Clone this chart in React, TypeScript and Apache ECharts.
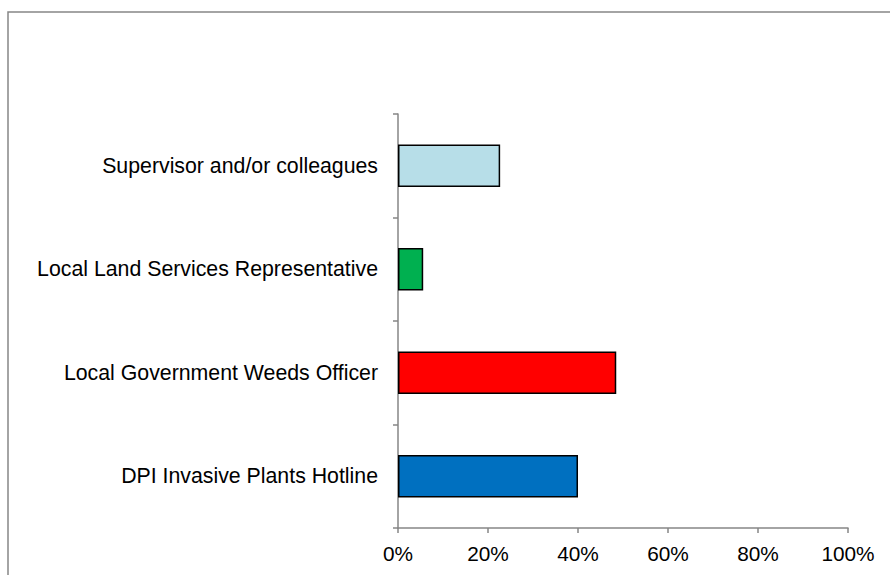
import React, { useEffect, useRef } from "react";
import * as echarts from "echarts";

const categories = [
  "DPI Invasive Plants Hotline",
  "Local Government Weeds Officer",
  "Local Land Services Representative",
  "Supervisor and/or colleagues",
];
const values = [40.0, 48.5, 5.6, 22.7];
const barColors = ["#0070C0", "#FF0000", "#00B050", "#B7DEE8"];
const xTicks = [0, 20, 40, 60, 80, 100];

export default function App() {
  const ref = useRef<HTMLDivElement>(null);
  useEffect(() => {
    if (!ref.current) return;
    const chart = echarts.init(ref.current, undefined, { renderer: "svg" });
    const font = "'Liberation Sans', Arial, sans-serif";
    chart.setOption({
      animation: false,
      backgroundColor: "#ffffff",
      graphic: [
        {
          type: "rect",
          shape: { x: 8, y: 12, width: 900, height: 600 },
          style: { fill: "none", stroke: "#868686", lineWidth: 1.5 },
          silent: true,
        },
      ],
      grid: { left: 398, right: 42, top: 114, bottom: 47, containLabel: false },
      xAxis: {
        type: "value",
        min: xTicks[0],
        max: xTicks[xTicks.length - 1],
        interval: 20,
        axisLine: { show: true, lineStyle: { color: "#868686", width: 1.5 } },
        axisTick: { show: true, length: 5, lineStyle: { color: "#868686", width: 1.5 } },
        splitLine: { show: false },
        axisLabel: {
          formatter: (v: number) => v + "%",
          color: "#000",
          fontFamily: font,
          fontSize: 20.8,
          margin: 15,
        },
      },
      yAxis: {
        type: "category",
        data: categories,
        axisLine: { show: true, lineStyle: { color: "#868686", width: 1.5 } },
        axisTick: { show: true, length: 5, lineStyle: { color: "#868686", width: 1.5 } },
        axisLabel: {
          color: "#000",
          fontFamily: font,
          fontSize: 21.3,
          margin: 20,
        },
      },
      series: [
        {
          type: "bar",
          barWidth: "41%",
          data: values.map((v, i) => ({
            value: v,
            itemStyle: { color: barColors[i], borderColor: "#000", borderWidth: 1.5 },
          })),
        },
      ],
    });
    return () => chart.dispose();
  }, []);
  return (
    <div
      ref={ref}
      style={{ position: "fixed", left: 0, top: 0, width: 890, height: 575, background: "#fff" }}
    />
  );
}
